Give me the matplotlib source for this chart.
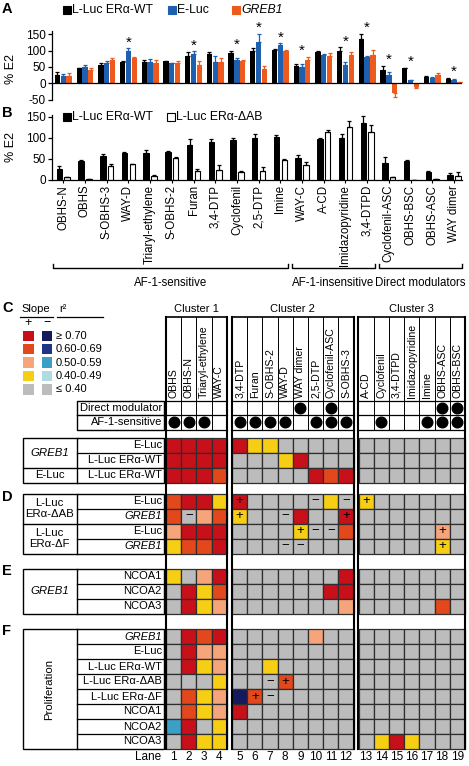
import numpy as np
import matplotlib
matplotlib.use('Agg')
import matplotlib.pyplot as plt
from matplotlib.patches import Rectangle
from matplotlib.transforms import blended_transform_factory

plt.rcParams['font.family'] = ['Liberation Sans', 'DejaVu Sans']
plt.rcParams['axes.unicode_minus'] = False

W, H = 469, 766

# ---------------- panels A and B: % E2 per compound ----------------
compounds = ['OBHS-N', 'OBHS', 'S-OBHS-3', 'WAY-D', 'Triaryl-ethylene', 'S-OBHS-2', 'Furan',
             '3,4-DTP', 'Cyclofenil', '2,5-DTP', 'Imine', 'WAY-C', 'A-CD', 'Imidazopyridine',
             '3,4-DTPD', 'Cyclofenil-ASC', 'OBHS-BSC', 'OBHS-ASC', 'WAY dimer']
wt = [26, 46, 57, 64, 65, 67, 84, 89, 94, 99, 103, 52, 96, 100, 136, 40, 46, 20, 13]
wt_err = [7, 2, 4, 3, 7, 2, 12, 7, 5, 10, 3, 8, 3, 10, 16, 14, 2, 2, 4]
a_eluc = [22, 51, 63, 100, 65, 61, 90, 66, 72, 127, 117, 49, 87, 55, 80, 25, 9, 15, 11]
a_eluc_err = [7, 6, 6, 7, 9, 2, 8, 16, 4, 25, 5, 10, 3, 11, 4, 10, 2, 4, 3]
a_greb1 = [21, 41, 71, 76, 63, 63, 55, 64, 68, 43, 98, 71, 84, 88, 88, -30, -12, 24, 3]
a_greb1_err = [11, 5, 6, 4, 8, 6, 12, 14, 3, 9, 5, 10, 8, 7, 15, 12, 4, 6, 1]
a_signif = [3, 6, 8, 9, 10, 11, 13, 14, 15, 16, 18]
b_dab = [6, 2, 32, 37, 9, 53, 21, 24, 19, 21, 47, 36, 113, 126, 113, 6, 0, 2, 10]
b_dab_err = [2, 1, 5, 2, 2, 2, 4, 12, 3, 10, 2, 7, 6, 14, 18, 1, 0, 1, 8]
af1_groups = [('AF-1-sensitive', 0, 10), ('AF-1-insensitive', 11, 14), ('Direct modulators', 15, 18)]

# ---------------- panels C-F: heat map ----------------
clusters = ['Cluster 1', 'Cluster 2', 'Cluster 3']
cluster_cols = [['OBHS', 'OBHS-N', 'Triaryl-ethylene', 'WAY-C'],
                ['3,4-DTP', 'Furan', 'S-OBHS-2', 'WAY-D', 'WAY dimer', '2,5-DTP', 'Cyclofenil-ASC', 'S-OBHS-3'],
                ['A-CD', 'Cyclofenil', '3,4-DTPD', 'Imidazopyridine', 'Imine', 'OBHS-ASC', 'OBHS-BSC']]
direct_mod = [0, 0, 0, 0, 0, 0, 0, 0, 1, 0, 1, 0, 0, 0, 0, 0, 0, 1, 1]
af1_sens = [1, 1, 1, 0, 1, 1, 1, 1, 0, 1, 1, 1, 0, 1, 0, 0, 1, 1, 1]

# level codes: 4 >=0.70, 3 0.60-0.69, 2 0.50-0.59, 1 0.40-0.49, 0 <=0.40; sign = slope
c_groups = [('GREB1', ['E-Luc', 'L-Luc ERα-WT']), ('E-Luc', ['L-Luc ERα-WT'])]
c_vals = [[4, 4, 4, 4, 4, 1, 1, 0, 0, 0, 0, 0, 0, 0, 0, 0, 0, 0, 0],
          [4, 4, 4, 4, 0, 0, 0, 1, 4, 0, 0, 0, 0, 0, 0, 0, 0, 0, 0],
          [4, 4, 4, 3, 0, 0, 0, 0, 0, 4, 3, 4, 0, 0, 0, 0, 0, 0, 0]]
c_marks = ['.' * 19] * 3

d_groups = [('L-Luc\nERα-ΔAB', ['E-Luc', 'GREB1']), ('L-Luc\nERα-ΔF', ['E-Luc', 'GREB1'])]
d_vals = [[3, 4, 4, 1, 4, 0, 0, 0, 0, 0, 1, 0, 1, 0, 0, 0, 0, 0, 0],
          [3, 0, 2, 3, 1, 0, 0, 0, 4, 0, 0, 4, 0, 0, 0, 0, 0, 0, 0],
          [2, 4, 4, 4, 0, 0, 0, 0, 1, 0, 0, 3, 0, 0, 0, 0, 0, 2, 0],
          [1, 3, 3, 4, 0, 0, 0, 0, 0, 0, 0, 0, 0, 0, 0, 0, 0, 1, 0]]
d_marks = ['....+....-.-+......',
           '.-..+..-...+.......',
           '........+--......+.',
           '.......--........+.']

e_groups = [('GREB1', ['NCOA1', 'NCOA2', 'NCOA3'])]
e_vals = [[1, 0, 2, 4, 0, 0, 0, 0, 0, 0, 0, 4, 0, 0, 0, 0, 0, 0, 0],
          [0, 4, 1, 3, 0, 0, 0, 0, 0, 0, 4, 4, 0, 0, 0, 0, 0, 0, 0],
          [0, 4, 1, 2, 0, 0, 0, 0, 0, 0, 0, 2, 0, 0, 0, 0, 0, 3, 0]]
e_marks = ['.' * 19] * 3

f_groups = [('Proliferation', ['GREB1', 'E-Luc', 'L-Luc ERα-WT', 'L-Luc ERα-ΔAB',
                               'L-Luc ERα-ΔF', 'NCOA1', 'NCOA2', 'NCOA3'])]
f_vals = [[0, 4, 3, 4, 0, 0, 0, 0, 0, 2, 0, 0, 0, 0, 0, 0, 0, 0, 0],
          [0, 4, 2, 2, 0, 0, 0, 0, 0, 0, 0, 0, 0, 0, 0, 0, 0, 0, 0],
          [0, 4, 1, 2, 0, 0, 1, 0, 0, 0, 0, 0, 0, 0, 0, 0, 0, 0, 0],
          [0, 0, 0, 1, 0, 0, 0, 3, 0, 0, 0, 0, 0, 0, 0, 0, 0, 0, 0],
          [0, 3, 1, 2, -4, 3, 0, 0, 0, 0, 0, 0, 0, 0, 0, 0, 0, 0, 0],
          [0, 3, 1, 2, 4, 0, 0, 0, 0, 0, 0, 0, 0, 0, 0, 0, 0, 0, 0],
          [-2, 4, 0, 1, 0, 0, 0, 0, 0, 0, 0, 0, 0, 0, 0, 0, 0, 0, 0],
          [0, 4, 1, 1, 0, 0, 0, 0, 0, 0, 0, 0, 0, 1, 4, 1, 0, 0, 0]]
f_marks = ['.' * 19, '.' * 19, '.' * 19,
           '......-+...........',
           '.....+-............',
           '.' * 19, '.' * 19, '.' * 19]

r2_labels = ['≥ 0.70', '0.60-0.69', '0.50-0.59', '0.40-0.49', '≤ 0.40']
pos_colors = {4: '#c8101a', 3: '#e2481b', 2: '#f5a579', 1: '#f6cf14'}
neg_colors = {4: '#141a5c', 3: '#1f3487', 2: '#3b9fc6', 1: '#b0dbe3'}
gray = '#bcbcbc'


def level_color(v):
    if v > 0:
        return pos_colors[v]
    if v < 0:
        return neg_colors[-v]
    return gray


fig = plt.figure(figsize=(W / 100, H / 100), dpi=100)


def px_axes(x0, y0, x1, y1):
    return fig.add_axes([x0 / W, 1 - y1 / H, (x1 - x0) / W, (y1 - y0) / H])


ov = fig.add_axes([0, 0, 1, 1])
ov.set_xlim(0, W)
ov.set_ylim(H, 0)
ov.axis('off')

x = np.arange(len(compounds))
blue, orange = '#1f5fb0', '#ee5a1c'


def updown(vals, errs):
    vals, errs = np.asarray(vals), np.asarray(errs)
    return [np.where(vals < 0, errs, 0), np.where(vals >= 0, errs, 0)]


# ---- A
axA = px_axes(52, 31, 462, 99.6)
axA.set_facecolor('none')
for off, vals, errs, col in [(-0.267, wt, wt_err, 'black'), (0, a_eluc, a_eluc_err, blue),
                             (0.267, a_greb1, a_greb1_err, orange)]:
    axA.bar(x + off, vals, 0.245, color=col)
    axA.errorbar(x + off, vals, yerr=updown(vals, errs), fmt='none', ecolor=col,
                 elinewidth=0.9, capsize=1.6, capthick=0.9)
axA.axhline(0, color='black', lw=0.9)
axA.set_xlim(-0.52, 18.37)
axA.set_ylim(-50, 160)
axA.set_yticks([-50, 0, 50, 100, 150])
axA.set_xticks([])
for s in ['top', 'right', 'bottom']:
    axA.spines[s].set_visible(False)
axA.spines['left'].set_linewidth(0.9)
axA.tick_params(axis='y', length=3, width=0.9, labelsize=8.5, pad=1.5)
axA.set_ylabel('% E2', fontsize=9)
axA.yaxis.set_label_coords(-0.085, 0.45)
for i in a_signif:
    top = max(wt[i] + wt_err[i], a_eluc[i] + a_eluc_err[i], a_greb1[i] + a_greb1_err[i])
    axA.text(i, top + 18, '*', ha='center', va='center', fontsize=11, clip_on=False)

# ---- B
axB = px_axes(52, 114.6, 462, 180)
axB.set_facecolor('none')
axB.bar(x - 0.18, wt, 0.25, color='black', edgecolor='black', lw=0.7)
axB.errorbar(x - 0.18, wt, yerr=updown(wt, wt_err), fmt='none', ecolor='black',
             elinewidth=0.9, capsize=1.6, capthick=0.9)
axB.bar(x + 0.18, b_dab, 0.25, color='white', edgecolor='black', lw=0.8)
axB.errorbar(x + 0.18, b_dab, yerr=updown(b_dab, b_dab_err), fmt='none', ecolor='black',
             elinewidth=0.9, capsize=1.6, capthick=0.9)
axB.set_xlim(-0.52, 18.37)
axB.set_ylim(0, 155)
axB.set_yticks([0, 50, 100, 150])
axB.set_xticks(x)
axB.set_xticklabels(compounds, rotation=90, fontsize=8.3)
for s in ['top', 'right']:
    axB.spines[s].set_visible(False)
axB.spines['left'].set_linewidth(0.9)
axB.spines['bottom'].set_linewidth(0.9)
axB.tick_params(axis='y', length=3, width=0.9, labelsize=8.5, pad=1.5)
axB.tick_params(axis='x', length=2, width=0.8, pad=1.5)
axB.set_ylabel('% E2', fontsize=9)
axB.yaxis.set_label_coords(-0.085, 0.5)

tr = blended_transform_factory(axB.transData, ov.transData)
for name, i0, i1 in af1_groups:
    xa, xb = i0 - 0.47, i1 + 0.37
    ov.plot([xa, xa, xb, xb], [264, 268, 268, 264], color='black', lw=1.0, transform=tr)
    ov.text((xa + xb) / 2, 283, name, transform=tr, ha='center', va='center', fontsize=8.3)

# legends A / B
for x0, fc, ec, label, style in [(63, 'black', 'black', 'L-Luc ERα-WT', 'normal'),
                                 (168, blue, blue, 'E-Luc', 'normal'),
                                 (232, orange, orange, 'GREB1', 'italic')]:
    ov.add_patch(Rectangle((x0, 6.3), 7.5, 7.5, fc=fc, ec=ec, lw=0.8))
    ov.text(x0 + 9.5, 10.3, label, va='center', fontsize=8.8, style=style)
for x0, fc, label in [(63, 'black', 'L-Luc ERα-WT'), (167, 'white', 'L-Luc ERα-ΔAB')]:
    ov.add_patch(Rectangle((x0, 113.3), 7.5, 7.5, fc=fc, ec='black', lw=0.8))
    ov.text(x0 + 9.5, 117.3, label, va='center', fontsize=8.8)

# panel letters
for letter, yy in [('A', 9), ('B', 113), ('C', 308), ('D', 497), ('E', 571), ('F', 631)]:
    ov.text(2, yy, letter, fontsize=10.5, fontweight='bold', va='center')

# ---- C legend
ov.text(36, 309.5, 'Slope', ha='center', va='center', fontsize=8)
ov.text(59, 309.5, 'r²', ha='left', va='center', fontsize=8)
ov.plot([20, 53], [316.5, 316.5], color='black', lw=0.9)
ov.plot([57, 103], [316.5, 316.5], color='black', lw=0.9)
ov.text(28, 323, '+', ha='center', va='center', fontsize=9)
ov.text(46.5, 323, '−', ha='center', va='center', fontsize=9)
for k, lab in enumerate(r2_labels):
    lev = 4 - k
    yc = 335.7 + 13.4 * k
    ov.add_patch(Rectangle((23, yc - 5.2), 10.5, 10.4, fc=level_color(lev), ec='none'))
    ov.add_patch(Rectangle((41.5, yc - 5.2), 10.5, 10.4, fc=level_color(-lev), ec='none'))
    ov.text(56, yc, lab, va='center', fontsize=8)

# ---- heat map geometry
cluster_x0 = [166, 232, 358.5]
cw, rh = 15.2, 15.0
hdr_top, name_base, dm_top, af_top, af_bot = 317, 398, 400.5, 415, 429.5
grid_bot = 749
lane_x = []
for x0, cols in zip(cluster_x0, cluster_cols):
    lane_x += [x0 + k * cw for k in range(len(cols))]
names = [n for cols in cluster_cols for n in cols]

for cname, x0, cols in zip(clusters, cluster_x0, cluster_cols):
    x1 = x0 + len(cols) * cw
    ov.text((x0 + x1) / 2, 309.5, cname, ha='center', va='center', fontsize=8)
    ov.plot([x0 - 0.5, x0 - 0.5], [hdr_top, grid_bot], color='black', lw=1.5)
    ov.plot([x1 + 0.5, x1 + 0.5], [hdr_top, grid_bot], color='black', lw=1.5)
    ov.plot([x0 - 0.5, x1 + 0.5], [hdr_top, hdr_top], color='black', lw=1.2)
    for yy in [dm_top, af_top, af_bot]:
        ov.plot([x0, x1], [yy, yy], color='black', lw=0.9)
    for k in range(1, len(cols)):
        ov.plot([x0 + k * cw] * 2, [hdr_top, af_bot], color='black', lw=0.7)

for j, name in enumerate(names):
    xc = lane_x[j] + cw / 2
    ov.text(xc, name_base, name, rotation=90, ha='center', va='bottom', fontsize=7.6)
    if direct_mod[j]:
        ov.scatter(xc, (dm_top + af_top) / 2, s=58, color='black', zorder=3)
    if af1_sens[j]:
        ov.scatter(xc, (af_top + af_bot) / 2, s=58, color='black', zorder=3)
    ov.text(xc, 757, str(j + 1), ha='center', va='center', fontsize=8.5)
ov.text(161, 757, 'Lane', ha='right', va='center', fontsize=8.5)

# header label box
lx0, lx1, lx2 = 22.7, 76.5, 164
ov.add_patch(Rectangle((lx1, dm_top), lx2 - lx1, af_bot - dm_top, fc='none', ec='black', lw=1.0))
ov.plot([lx1, lx2], [af_top, af_top], color='black', lw=1.0)
ov.text(162, (dm_top + af_top) / 2, 'Direct modulator', ha='right', va='center', fontsize=8)
ov.text(162, (af_top + af_bot) / 2, 'AF-1-sensitive', ha='right', va='center', fontsize=8)

blocks = [(437.5, c_groups, c_vals, c_marks),
          (493.5, d_groups, d_vals, d_marks),
          (568.5, e_groups, e_vals, e_marks),
          (629.0, f_groups, f_vals, f_marks)]

for top, groups, vals, marks in blocks:
    nrows = len(vals)
    ov.add_patch(Rectangle((lx0, top), lx2 - lx0, nrows * rh, fc='none', ec='black', lw=1.0))
    ov.plot([lx1, lx1], [top, top + nrows * rh], color='black', lw=1.0)
    r = 0
    for gname, rows in groups:
        g_top = top + r * rh
        g_bot = g_top + len(rows) * rh
        if r > 0:
            ov.plot([lx0, lx2], [g_top, g_top], color='black', lw=1.0)
        rot = 90 if gname == 'Proliferation' else 0
        ov.text((lx0 + lx1) / 2, (g_top + g_bot) / 2, gname, ha='center', va='center',
                fontsize=8.2, rotation=rot, linespacing=1.1,
                style='italic' if gname == 'GREB1' else 'normal')
        for k, rname in enumerate(rows):
            yk = g_top + k * rh
            if k > 0:
                ov.plot([lx1, lx2], [yk, yk], color='black', lw=0.9)
            ov.text(162, yk + rh / 2, rname, ha='right', va='center', fontsize=8,
                    style='italic' if rname == 'GREB1' else 'normal')
        r += len(rows)
    for i, (row, mrow) in enumerate(zip(vals, marks)):
        yt = top + i * rh
        for j, v in enumerate(row):
            ov.add_patch(Rectangle((lane_x[j], yt), cw, rh, fc=level_color(v),
                                   ec='#2e2e2e', lw=0.9))
            if mrow[j] == '+':
                ov.text(lane_x[j] + cw / 2, yt + rh / 2 + 0.3, '+', ha='center', va='center', fontsize=9.5)
            elif mrow[j] == '-':
                ov.text(lane_x[j] + cw / 2, yt + rh / 2 + 0.3, '−', ha='center', va='center', fontsize=9.5)

fig.savefig('out.png', dpi=100)
